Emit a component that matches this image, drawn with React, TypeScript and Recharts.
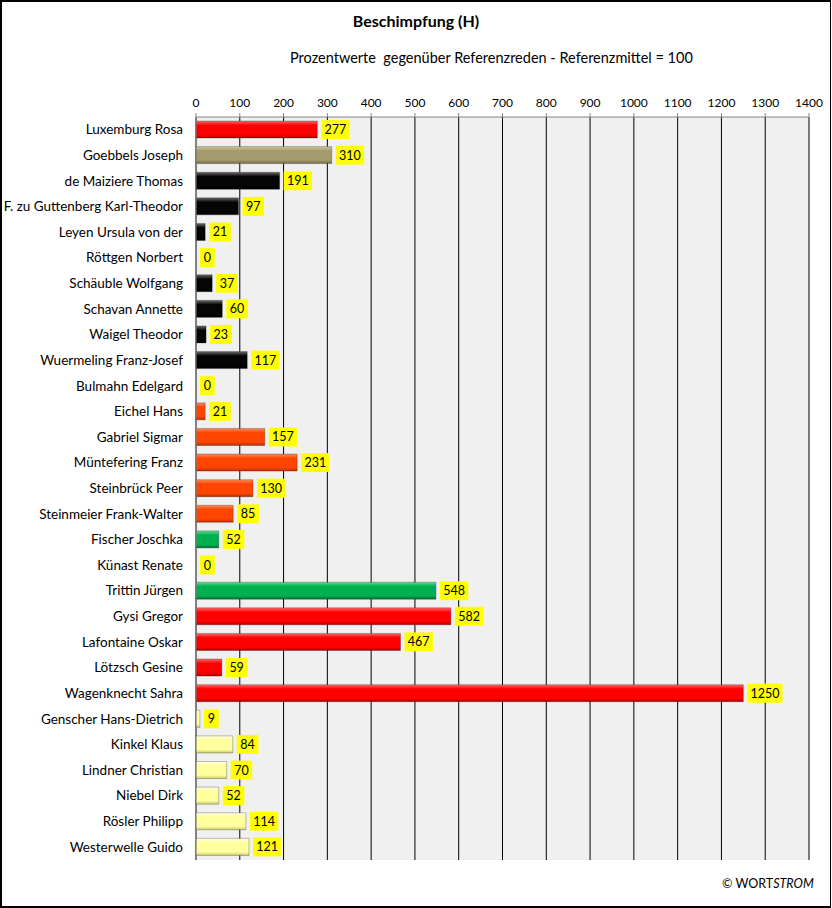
import { BarChart, Bar, XAxis, YAxis, CartesianGrid, Cell, LabelList, Rectangle } from "recharts";

const names = [
  "Luxemburg Rosa", "Goebbels Joseph", "de Maiziere Thomas", "F. zu Guttenberg Karl-Theodor",
  "Leyen Ursula von der", "Röttgen Norbert", "Schäuble Wolfgang", "Schavan Annette",
  "Waigel Theodor", "Wuermeling Franz-Josef", "Bulmahn Edelgard", "Eichel Hans",
  "Gabriel Sigmar", "Müntefering Franz", "Steinbrück Peer", "Steinmeier Frank-Walter",
  "Fischer Joschka", "Künast Renate", "Trittin Jürgen", "Gysi Gregor", "Lafontaine Oskar",
  "Lötzsch Gesine", "Wagenknecht Sahra", "Genscher Hans-Dietrich", "Kinkel Klaus",
  "Lindner Christian", "Niebel Dirk", "Rösler Philipp", "Westerwelle Guido",
];
const values = [277, 310, 191, 97, 21, 0, 37, 60, 23, 117, 0, 21, 157, 231, 130, 85, 52, 0, 548, 582, 467, 59, 1250, 9, 84, 70, 52, 114, 121];
const groups = [
  "red", "khaki", "black", "black", "black", "black", "black", "black", "black", "black",
  "spd", "spd", "spd", "spd", "spd", "spd", "green", "green", "green",
  "red", "red", "red", "red", "fdp", "fdp", "fdp", "fdp", "fdp", "fdp",
];
const xTicks = [0, 100, 200, 300, 400, 500, 600, 700, 800, 900, 1000, 1100, 1200, 1300, 1400];

// light / base / dark for the bevel look
const SHADES: Record<string, [string, string, string]> = {
  red: ["#ff6a6a", "#ff0000", "#b00000"],
  khaki: ["#cfc79c", "#a39b6b", "#6e6844"],
  black: ["#6a6a6a", "#050505", "#000000"],
  spd: ["#ff8a5a", "#ff4500", "#b83000"],
  green: ["#5fdc92", "#00b050", "#00733a"],
  fdp: ["#ffffe0", "#ffff9e", "#cccc70"],
};

const data = names.map((name, i) => ({ name, value: values[i], group: groups[i] }));

const FONT = "Lato, 'Open Sans', sans-serif";

function ValueBox(props: any) {
  const { x, y, width, height, value } = props;
  const txt = String(value);
  const w = txt.length * 6.8 + 8;
  const bx = x + (value > 0 ? width : 0) + 4;
  const cy = y + height / 2;
  return (
    <g>
      <rect x={bx} y={cy - 9.5} width={w} height={19} fill="#ffff00" />
      <text x={bx + w / 2} y={cy + 4.5} textAnchor="middle" fontSize={12.5} fontFamily={FONT} fill="#000">
        {txt}
      </text>
    </g>
  );
}

function BarShape(props: any) {
  if (!props.value) return null;
  return <Rectangle {...props} />;
}

function NameTick(props: any) {
  const { x, y, payload } = props;
  return (
    <text x={x} y={y + 4.5} textAnchor="end" fontSize={13.5} fontFamily={FONT} fill="#000">
      {payload.value}
    </text>
  );
}

export default function App() {
  return (
    <div
      style={{
        position: "absolute", left: 0, top: 0, width: 832, height: 908,
        background: "#fff", fontFamily: FONT,
      }}
    >
      <div
        style={{
          position: "absolute", left: 0, top: 0, width: 831, height: 908,
          boxSizing: "border-box", border: "2px solid #000", borderRight: "1px solid #000",
        }}
      />
      <div style={{ position: "absolute", left: 0, width: 832, top: 11, textAlign: "center", fontWeight: 700, fontSize: 16 }}>
        Beschimpfung (H)
      </div>
      <div style={{ position: "absolute", left: 290, top: 49, fontSize: 14.5 }}>
        Prozentwerte&nbsp;&nbsp;gegenüber Referenzreden - Referenzmittel = 100
      </div>
      <div style={{ position: "absolute", left: 722, top: 876, fontSize: 12.5 }}>
        © WORT<i>STROM</i>
      </div>
      <BarChart
        width={832}
        height={908}
        data={data}
        layout="vertical"
        margin={{ top: 87, right: 23, bottom: 48, left: 0 }}
        barSize={17}
        style={{ position: "absolute", left: 0, top: 0 }}
      >
        <defs>
          {Object.entries(SHADES).map(([k, [l, b, d]]) => (
            <linearGradient key={k} id={"g-" + k} x1="0" y1="0" x2="0" y2="1">
              <stop offset="0%" stopColor={l} />
              <stop offset="25%" stopColor={b} />
              <stop offset="80%" stopColor={b} />
              <stop offset="100%" stopColor={d} />
            </linearGradient>
          ))}
        </defs>
        <CartesianGrid horizontal={false} fill="#f0f0f0" stroke="#000" strokeOpacity={1} />
        <XAxis
          type="number"
          orientation="top"
          domain={[0, 1400]}
          ticks={xTicks}
          interval={0}
          height={30}
          stroke="#868686"
          tickSize={4}
          tick={{ fill: "#000", fontSize: 12, fontFamily: FONT }}
          tickMargin={6}
        />
        <XAxis
          xAxisId="bottom"
          type="number"
          orientation="bottom"
          domain={[0, 1400]}
          tick={false}
          tickLine={false}
          stroke="#000"
          height={0}
        />
        <YAxis
          type="category"
          dataKey="name"
          width={196}
          interval={0}
          tickLine={false}
          stroke="#868686"
          tickMargin={7}
          tick={NameTick}
        />
        <Bar
          dataKey="value"
          isAnimationActive={false}
          stroke="rgba(0,0,0,0.25)"
          strokeWidth={1}
          minPointSize={1}
          shape={BarShape}
        >
          {data.map((d, i) => (
            <Cell key={i} fill={`url(#g-${d.group})`} />
          ))}
          <LabelList dataKey="value" content={ValueBox} />
        </Bar>
      </BarChart>
    </div>
  );
}
